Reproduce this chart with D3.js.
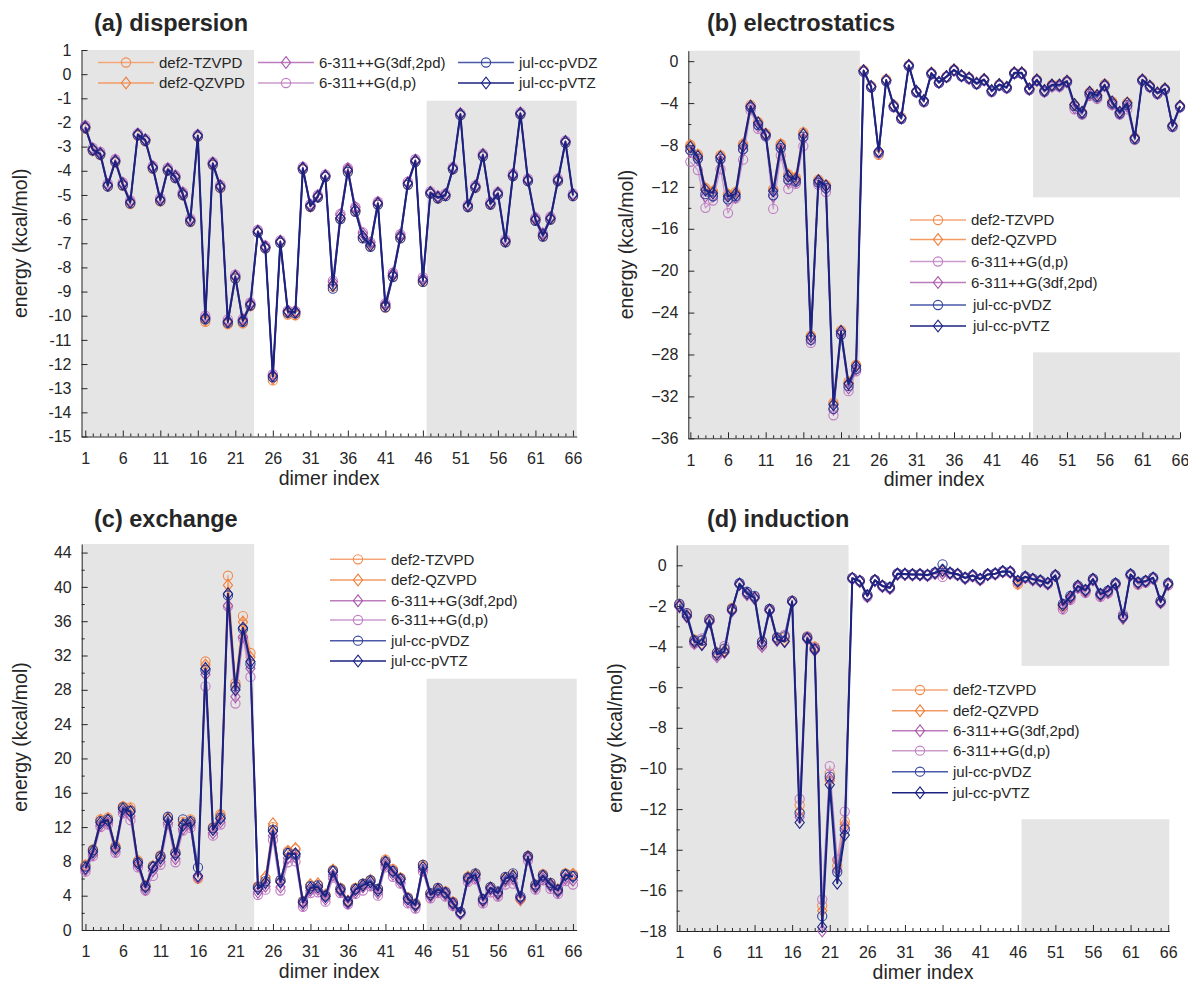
<!DOCTYPE html>
<html>
<head>
<meta charset="utf-8">
<script src="https://cdnjs.cloudflare.com/ajax/libs/d3/7.8.5/d3.min.js"></script>
<style>
  body { margin: 0; background: #fff; }
  text { font-family: "Liberation Sans", Arial, Helvetica, sans-serif; fill: #262626; }
</style>
</head>
<body>
<svg id="chart" width="1188" height="987"></svg>
<script>
// ---------- data: SAPT component energies (kcal/mol) for dimers 1..66 ----------
const dimerIndex = d3.range(1, 67);
const basisSets = ["def2-TZVPD", "def2-QZVPD", "6-311++G(3df,2pd)", "6-311++G(d,p)", "jul-cc-pVDZ", "jul-cc-pVTZ"];

// (a) dispersion
const dispTZVPD = [
  -2.25,-3.18,-3.35,-4.65,-3.65,-4.62,-5.38,-2.55,-2.78,-3.92,
  -5.27,-4.0,-4.3,-5.02,-6.12,-2.6,-10.25,-3.76,-4.72,-10.35,
  -8.45,-10.32,-9.6,-6.55,-7.22,-12.68,-6.98,-9.95,-9.98,-3.95,
  -5.5,-5.1,-4.26,-8.8,-6.0,-4.0,-5.68,-6.78,-7.12,-5.4,
  -9.66,-8.38,-6.78,-4.56,-3.62,-8.6,-4.95,-5.15,-5.04,-3.94,
  -1.7,-5.5,-4.7,-3.4,-5.4,-4.98,-6.95,-4.22,-1.67,-4.42,
  -6.06,-6.72,-6.02,-4.42,-2.84,-5.04];
const dispQZVPD = [
  -2.2,-3.14,-3.3,-4.6,-3.6,-4.56,-5.32,-2.5,-2.74,-3.87,
  -5.22,-3.95,-4.26,-4.97,-6.07,-2.55,-10.18,-3.72,-4.67,-10.3,
  -8.4,-10.26,-9.56,-6.52,-7.18,-12.6,-6.95,-9.88,-9.92,-3.9,
  -5.46,-5.07,-4.22,-8.72,-5.95,-3.96,-5.62,-6.72,-7.07,-5.35,
  -9.6,-8.33,-6.74,-4.52,-3.59,-8.55,-4.92,-5.1,-5.0,-3.9,
  -1.66,-5.46,-4.66,-3.35,-5.36,-4.94,-6.92,-4.18,-1.63,-4.39,
  -6.02,-6.68,-5.98,-4.39,-2.8,-5.01];
const disp3df2pd = [
  -2.15,-3.08,-3.25,-4.55,-3.55,-4.5,-5.25,-2.47,-2.7,-3.82,
  -5.15,-3.9,-4.2,-4.9,-6.0,-2.52,-10.05,-3.66,-4.6,-10.2,
  -8.33,-10.15,-9.48,-6.48,-7.12,-12.45,-6.9,-9.8,-9.82,-3.86,
  -5.4,-5.02,-4.18,-8.6,-5.82,-3.9,-5.52,-6.6,-6.98,-5.3,
  -9.5,-8.25,-6.65,-4.48,-3.55,-8.45,-4.88,-5.06,-4.97,-3.87,
  -1.63,-5.42,-4.62,-3.31,-5.32,-4.9,-6.86,-4.14,-1.6,-4.35,
  -5.95,-6.6,-5.92,-4.35,-2.77,-4.97];
const dispDP = [
  -2.12,-3.05,-3.22,-4.52,-3.52,-4.48,-5.22,-2.45,-2.68,-3.8,
  -5.12,-3.88,-4.18,-4.88,-5.97,-2.5,-10.0,-3.64,-4.58,-10.15,
  -8.3,-10.12,-9.45,-6.45,-7.1,-12.42,-6.88,-9.78,-9.8,-3.84,
  -5.38,-5.0,-4.16,-8.55,-5.78,-3.88,-5.5,-6.55,-6.95,-5.28,
  -9.48,-8.22,-6.62,-4.45,-3.52,-8.4,-4.85,-5.04,-4.95,-3.85,
  -1.62,-5.4,-4.6,-3.3,-5.3,-4.88,-6.84,-4.12,-1.58,-4.33,
  -5.93,-6.58,-5.9,-4.33,-2.75,-4.95];
const dispVDZ = [
  -2.22,-3.15,-3.33,-4.65,-3.62,-4.6,-5.35,-2.52,-2.76,-3.9,
  -5.25,-3.98,-4.3,-5.0,-6.1,-2.58,-10.15,-3.74,-4.7,-10.3,
  -8.45,-10.25,-9.58,-6.55,-7.2,-12.55,-6.98,-9.88,-9.9,-3.93,
  -5.48,-5.1,-4.25,-8.88,-6.0,-4.05,-5.7,-6.8,-7.15,-5.4,
  -9.65,-8.4,-6.8,-4.58,-3.63,-8.6,-4.95,-5.14,-5.05,-3.93,
  -1.7,-5.5,-4.7,-3.4,-5.4,-4.98,-6.96,-4.22,-1.66,-4.43,
  -6.07,-6.72,-6.02,-4.43,-2.84,-5.05];
const dispVTZ = [
  -2.2,-3.12,-3.3,-4.6,-3.6,-4.55,-5.3,-2.5,-2.73,-3.86,
  -5.2,-3.95,-4.25,-4.96,-6.05,-2.55,-10.1,-3.7,-4.65,-10.25,
  -8.38,-10.2,-9.53,-6.52,-7.17,-12.5,-6.94,-9.83,-9.85,-3.9,
  -5.45,-5.06,-4.22,-8.75,-5.95,-3.98,-5.63,-6.73,-7.08,-5.35,
  -9.56,-8.32,-6.73,-4.52,-3.59,-8.52,-4.91,-5.1,-5.0,-3.9,
  -1.66,-5.45,-4.66,-3.35,-5.35,-4.94,-6.91,-4.18,-1.63,-4.39,
  -6.01,-6.66,-5.97,-4.39,-2.8,-5.0];

// (b) electrostatics
const elstTZVPD = [
  -8.0,-8.9,-12.1,-12.4,-9.0,-12.7,-12.5,-7.9,-4.2,-5.8,
  -6.9,-12.2,-7.9,-10.8,-11.1,-6.8,-26.2,-11.3,-11.8,-32.6,
  -25.7,-30.6,-29.0,-0.85,-2.35,-8.95,-1.75,-4.2,-5.35,-0.38,
  -2.9,-3.9,-1.12,-2.0,-1.45,-0.82,-1.36,-1.58,-2.1,-1.74,
  -2.82,-2.22,-2.5,-1.1,-1.1,-2.6,-1.76,-2.8,-2.25,-2.25,
  -1.88,-4.2,-4.9,-2.95,-3.3,-2.2,-3.85,-4.9,-3.95,-7.3,
  -1.76,-2.36,-3.0,-2.62,-6.15,-4.3];
const elstQZVPD = [
  -8.05,-8.95,-12.15,-12.45,-9.05,-12.75,-12.55,-7.95,-4.25,-5.85,
  -6.95,-12.25,-7.95,-10.85,-11.15,-6.85,-26.2,-11.35,-11.85,-32.65,
  -25.75,-30.7,-29.0,-0.88,-2.38,-8.8,-1.78,-4.22,-5.38,-0.39,
  -2.88,-3.82,-1.13,-2.0,-1.46,-0.82,-1.37,-1.59,-2.1,-1.75,
  -2.81,-2.22,-2.49,-1.1,-1.1,-2.62,-1.77,-2.8,-2.26,-2.26,
  -1.89,-4.15,-4.87,-2.96,-3.28,-2.24,-3.88,-4.87,-3.98,-7.31,
  -1.77,-2.37,-3.01,-2.63,-6.14,-4.29];
const elst3df2pd = [
  -8.6,-9.4,-12.9,-12.9,-9.5,-13.3,-13.0,-8.5,-4.5,-6.2,
  -7.1,-12.9,-8.4,-11.5,-11.5,-7.4,-26.6,-11.6,-12.2,-33.2,
  -26.0,-31.2,-29.4,-0.95,-2.45,-8.7,-1.85,-4.3,-5.45,-0.45,
  -2.92,-3.8,-1.2,-2.05,-1.5,-0.88,-1.42,-1.65,-2.16,-1.8,
  -2.86,-2.28,-2.55,-1.16,-1.16,-2.7,-1.85,-2.9,-2.4,-2.4,
  -2.0,-4.45,-5.0,-3.2,-3.5,-2.35,-4.1,-5.0,-4.3,-7.4,
  -1.84,-2.45,-3.1,-2.7,-6.2,-4.35];
const elstDP = [
  -9.6,-10.4,-14.0,-13.3,-10.3,-14.5,-13.1,-9.4,-4.7,-6.45,
  -7.2,-14.1,-9.0,-12.2,-11.7,-8.1,-26.9,-11.8,-12.5,-33.8,
  -26.1,-31.5,-29.6,-1.0,-2.5,-8.8,-1.9,-4.4,-5.5,-0.5,
  -3.0,-3.9,-1.25,-2.1,-1.55,-0.92,-1.45,-1.7,-2.2,-1.85,
  -2.95,-2.35,-2.6,-1.2,-1.2,-2.75,-1.9,-2.95,-2.45,-2.45,
  -2.05,-4.6,-5.1,-3.3,-3.6,-2.4,-4.2,-5.1,-4.6,-7.5,
  -1.9,-2.5,-3.15,-2.75,-6.3,-4.4];
const elstVDZ = [
  -8.5,-9.3,-12.7,-12.9,-9.3,-13.2,-12.9,-8.4,-4.4,-6.1,
  -7.1,-12.8,-8.3,-11.3,-11.5,-7.2,-26.6,-11.6,-12.1,-33.2,
  -26.1,-31.0,-29.4,-1.0,-2.5,-8.7,-1.9,-4.35,-5.5,-0.45,
  -2.95,-3.85,-1.2,-2.08,-1.52,-0.88,-1.42,-1.65,-2.18,-1.8,
  -2.88,-2.3,-2.55,-1.16,-1.16,-2.7,-1.84,-2.88,-2.34,-2.33,
  -1.96,-4.3,-5.0,-3.1,-3.42,-2.34,-4.05,-5.0,-4.2,-7.45,
  -1.84,-2.45,-3.1,-2.7,-6.25,-4.36];
const elstVTZ = [
  -8.2,-9.1,-12.3,-12.6,-9.15,-12.9,-12.7,-8.1,-4.3,-5.9,
  -7.0,-12.4,-8.1,-11.0,-11.3,-7.0,-26.3,-11.4,-11.9,-32.8,
  -25.8,-30.8,-29.1,-0.9,-2.4,-8.6,-1.8,-4.25,-5.4,-0.4,
  -2.86,-3.75,-1.14,-2.0,-1.46,-0.83,-1.37,-1.59,-2.1,-1.75,
  -2.8,-2.22,-2.48,-1.11,-1.11,-2.64,-1.78,-2.8,-2.26,-2.26,
  -1.9,-4.13,-4.86,-2.96,-3.27,-2.26,-3.9,-4.86,-4.0,-7.31,
  -1.78,-2.38,-3.02,-2.64,-6.13,-4.29];

// (c) exchange
const exchTZVPD = [
  7.6,9.4,12.9,13.1,9.8,14.4,14.3,8.1,5.2,7.5,
  8.7,13.1,9.1,12.6,12.9,6.0,31.3,12.0,13.5,41.3,
  28.8,36.6,32.3,5.1,6.0,12.0,5.8,9.2,9.4,3.4,
  5.2,5.3,4.1,7.0,4.9,3.4,4.9,5.4,5.8,4.8,
  8.2,7.1,6.1,3.8,3.1,7.6,4.3,4.9,4.5,3.3,
  2.1,6.2,6.5,3.6,5.0,4.4,6.1,6.4,3.6,8.6,
  5.2,6.5,5.5,4.8,6.6,6.5];
const exchQZVPD = [
  7.5,9.3,12.8,13.0,9.7,14.3,14.1,8.0,5.1,7.4,
  8.6,13.0,8.9,12.4,12.7,6.1,30.9,11.9,13.4,40.2,
  28.6,35.9,31.8,5.0,6.2,12.4,5.7,9.2,9.5,3.3,
  5.3,5.4,4.1,7.0,4.8,3.4,4.8,5.3,5.8,4.7,
  8.1,7.0,6.0,3.7,3.0,7.5,4.2,4.8,4.4,3.2,
  2.0,6.2,6.5,3.5,4.9,4.3,6.0,6.3,3.5,8.6,
  5.2,6.4,5.4,4.7,6.5,6.5];
const exch3df2pd = [
  7.0,8.8,12.2,12.5,9.2,13.8,13.3,7.5,4.7,6.9,
  8.0,12.5,8.3,11.8,12.2,6.1,29.8,11.3,12.6,37.8,
  27.2,34.2,30.5,4.4,5.1,11.0,5.0,8.4,8.5,2.9,
  4.6,4.7,3.6,6.4,4.5,3.1,4.4,5.0,5.3,4.3,
  7.6,6.5,5.6,3.3,2.7,7.0,3.9,4.5,4.1,2.9,
  1.9,5.8,6.1,3.3,4.7,4.1,5.7,6.0,3.6,8.3,
  4.9,6.0,5.1,4.4,6.0,5.8];
const exchDP = [
  6.8,8.6,12.0,12.3,9.0,13.6,12.8,7.3,4.6,6.3,
  7.6,12.3,7.9,11.6,11.9,6.2,28.4,11.0,12.3,37.7,
  26.4,34.0,29.5,4.1,4.7,10.5,4.6,7.9,8.0,2.7,
  4.3,4.4,3.3,6.1,4.3,3.0,4.2,4.6,5.1,4.0,
  7.3,6.2,5.4,3.1,2.5,6.8,3.7,4.3,3.9,2.8,
  1.9,5.6,5.9,3.1,4.4,3.9,5.3,5.4,3.9,8.1,
  4.7,5.8,4.8,4.2,5.7,5.3];
const exchVDZ = [
  7.4,9.3,12.7,12.9,9.6,14.3,13.9,7.9,5.1,7.4,
  8.6,13.2,9.0,12.9,12.7,7.3,30.3,11.9,13.1,39.0,
  28.4,35.1,31.0,5.0,5.7,11.7,5.8,9.0,8.8,3.3,
  5.1,5.2,4.0,6.9,4.8,3.3,4.8,5.4,5.8,4.8,
  8.0,6.9,6.0,3.7,3.0,7.6,4.3,4.9,4.4,3.2,
  2.1,6.1,6.6,3.6,5.0,4.5,6.2,6.6,3.9,8.6,
  5.3,6.4,5.5,4.7,6.5,6.3];
const exchVTZ = [
  7.2,9.1,12.5,12.8,9.5,14.1,13.8,7.8,5.0,7.3,
  8.4,12.9,8.8,12.2,12.5,6.3,30.5,11.7,13.0,39.2,
  28.0,35.2,31.3,4.8,5.5,11.5,5.6,8.9,8.9,3.2,
  4.9,5.0,3.9,6.8,4.7,3.3,4.7,5.2,5.6,4.6,
  7.9,6.8,5.9,3.6,2.9,7.3,4.1,4.7,4.3,3.1,
  2.0,6.0,6.4,3.5,4.9,4.3,6.0,6.3,3.8,8.5,
  5.1,6.3,5.3,4.6,6.4,6.2];

// (d) induction
const indTZVPD = [
  -1.9,-2.35,-3.65,-3.7,-2.65,-4.3,-4.1,-2.1,-0.9,-1.4,
  -1.55,-3.8,-2.15,-3.55,-3.55,-1.75,-11.8,-3.5,-4.0,-16.75,
  -10.24,-14.8,-12.6,-0.62,-0.76,-1.48,-0.73,-1.0,-1.1,-0.42,
  -0.43,-0.45,-0.45,-0.48,-0.37,-0.3,-0.37,-0.44,-0.62,-0.52,
  -0.7,-0.46,-0.42,-0.32,-0.34,-0.94,-0.6,-0.7,-0.78,-0.9,
  -0.52,-2.0,-1.6,-1.05,-1.28,-0.7,-1.46,-1.32,-0.92,-2.5,
  -0.5,-0.92,-0.8,-0.66,-1.78,-0.98];
const indQZVPD = [
  -1.95,-2.45,-3.75,-3.85,-2.7,-4.35,-4.2,-2.15,-0.92,-1.4,
  -1.6,-3.85,-2.2,-3.6,-3.7,-1.78,-12.1,-3.55,-4.05,-17.0,
  -10.6,-14.5,-12.75,-0.64,-0.78,-1.5,-0.74,-1.02,-1.12,-0.43,
  -0.44,-0.46,-0.46,-0.49,-0.38,-0.27,-0.38,-0.45,-0.63,-0.52,
  -0.7,-0.46,-0.42,-0.31,-0.33,-0.9,-0.59,-0.7,-0.78,-0.9,
  -0.5,-1.98,-1.58,-1.04,-1.25,-0.69,-1.45,-1.3,-0.91,-2.52,
  -0.47,-0.9,-0.79,-0.64,-1.8,-0.95];
const ind3df2pd = [
  -2.05,-2.55,-3.85,-3.9,-2.8,-4.5,-4.3,-2.25,-0.95,-1.45,
  -1.65,-4.0,-2.25,-3.7,-3.75,-1.82,-12.4,-3.65,-4.2,-18.0,
  -10.5,-15.0,-12.9,-0.66,-0.8,-1.55,-0.76,-1.05,-1.14,-0.45,
  -0.46,-0.48,-0.48,-0.5,-0.4,-0.4,-0.4,-0.47,-0.65,-0.53,
  -0.71,-0.47,-0.43,-0.32,-0.34,-0.8,-0.6,-0.72,-0.8,-0.92,
  -0.52,-2.1,-1.65,-1.1,-1.3,-0.72,-1.5,-1.35,-0.95,-2.62,
  -0.48,-0.9,-0.8,-0.65,-1.85,-0.95];
const indDP = [
  -1.95,-2.4,-3.85,-3.6,-2.7,-4.45,-3.97,-2.2,-0.92,-1.4,
  -1.55,-3.95,-2.2,-3.6,-3.43,-1.75,-11.5,-3.5,-4.05,-16.45,
  -9.88,-14.49,-12.12,-0.65,-0.8,-1.55,-0.75,-1.05,-1.15,-0.45,
  -0.46,-0.48,-0.48,-0.52,-0.42,-0.57,-0.42,-0.48,-0.66,-0.55,
  -0.72,-0.48,-0.44,-0.34,-0.36,-0.82,-0.62,-0.72,-0.8,-0.93,
  -0.54,-2.17,-1.7,-1.12,-1.35,-0.74,-1.55,-1.38,-0.96,-2.4,
  -0.5,-0.95,-0.85,-0.68,-1.85,-0.98];
const indVDZ = [
  -1.9,-2.35,-3.7,-3.7,-2.65,-4.3,-4.1,-2.15,-0.88,-1.3,
  -1.5,-3.75,-2.15,-3.55,-3.5,-1.75,-12.2,-3.55,-4.1,-17.27,
  -10.4,-15.1,-13.0,-0.62,-0.75,-1.45,-0.72,-1.0,-1.08,-0.4,
  -0.42,-0.44,-0.44,-0.47,-0.35,0.05,-0.36,-0.43,-0.6,-0.49,
  -0.66,-0.44,-0.4,-0.29,-0.31,-0.75,-0.55,-0.66,-0.74,-0.86,
  -0.48,-1.9,-1.5,-1.0,-1.2,-0.66,-1.4,-1.25,-0.88,-2.5,
  -0.44,-0.83,-0.76,-0.6,-1.75,-0.88];
const indVTZ = [
  -2.0,-2.5,-3.75,-3.9,-2.75,-4.38,-4.25,-2.2,-0.92,-1.38,
  -1.6,-3.85,-2.2,-3.65,-3.75,-1.8,-12.66,-3.6,-4.15,-17.8,
  -10.8,-15.65,-13.28,-0.64,-0.78,-1.5,-0.74,-1.02,-1.1,-0.42,
  -0.43,-0.45,-0.45,-0.48,-0.37,-0.25,-0.37,-0.44,-0.62,-0.5,
  -0.68,-0.45,-0.41,-0.3,-0.32,-0.78,-0.57,-0.68,-0.76,-0.88,
  -0.5,-1.95,-1.55,-1.02,-1.23,-0.68,-1.42,-1.27,-0.9,-2.55,
  -0.45,-0.85,-0.78,-0.62,-1.8,-0.9];

// ---------- appearance ----------
const basisStyle = {
  "def2-TZVPD":        { color: "#f28a4c", line: "#f5a678", shape: "circle",  width: 1.3 },
  "def2-QZVPD":        { color: "#ef7d39", line: "#f39b66", shape: "diamond", width: 1.3 },
  "6-311++G(3df,2pd)": { color: "#a957ab", line: "#bb7dbd", shape: "diamond", width: 1.3 },
  "6-311++G(d,p)":     { color: "#c07cc3", line: "#cc9bce", shape: "circle",  width: 1.3 },
  "jul-cc-pVDZ":       { color: "#34459c", line: "#4a5aa8", shape: "circle",  width: 1.6 },
  "jul-cc-pVTZ":       { color: "#1c2280", line: "#1c2280", shape: "diamond", width: 2.0 }
};
// stacking order of the series (last drawn on top)
const drawOrder = ["def2-TZVPD", "def2-QZVPD", "6-311++G(d,p)", "6-311++G(3df,2pd)", "jul-cc-pVDZ", "jul-cc-pVTZ"];

const panels = [
  {
    title: "(a) dispersion", titlePos: [94, 31],
    box: { l: 81.5, r: 576.7, t: 50, b: 436.5 },
    xDom: [0.5, 66.5], yDom: [-15, 1],
    yMajor: d3.range(-15, 2, 1), yMinor: [], minus: "-",
    shades: [[0.5, 23.5, -15, 1], [46.5, 66.5, -15, -1.1]],
    data: { "def2-TZVPD": dispTZVPD, "def2-QZVPD": dispQZVPD, "6-311++G(3df,2pd)": disp3df2pd,
            "6-311++G(d,p)": dispDP, "jul-cc-pVDZ": dispVDZ, "jul-cc-pVTZ": dispVTZ },
    legend: [
      { name: "def2-TZVPD", x: 98, y: 62.5 }, { name: "def2-QZVPD", x: 98, y: 83 },
      { name: "6-311++G(3df,2pd)", x: 258, y: 62.5 }, { name: "6-311++G(d,p)", x: 258, y: 83 },
      { name: "jul-cc-pVDZ", x: 458, y: 62.5 }, { name: "jul-cc-pVTZ", x: 458, y: 83 }
    ]
  },
  {
    title: "(b) electrostatics", titlePos: [707, 31],
    box: { l: 688.3, r: 1180, t: 50.7, b: 438.3 },
    xDom: [0.73, 66], yDom: [-36, 1],
    yMajor: d3.range(-36, 1, 4), yMinor: d3.range(-34, 1, 4), minus: "\u2212",
    shades: [[0.73, 23.5, -36, 1], [46.5, 66, -13, 1], [46.5, 66, -36, -27.8]],
    data: { "def2-TZVPD": elstTZVPD, "def2-QZVPD": elstQZVPD, "6-311++G(3df,2pd)": elst3df2pd,
            "6-311++G(d,p)": elstDP, "jul-cc-pVDZ": elstVDZ, "jul-cc-pVTZ": elstVTZ },
    legend: [
      { name: "def2-TZVPD", x: 910, y: 220 }, { name: "def2-QZVPD", x: 910, y: 239.5 },
      { name: "6-311++G(d,p)", x: 910, y: 261.5 }, { name: "6-311++G(3df,2pd)", x: 910, y: 282.5 },
      { name: "jul-cc-pVDZ", x: 910, y: 305, dx: 2 }, { name: "jul-cc-pVTZ", x: 910, y: 326, dx: 2 }
    ]
  },
  {
    title: "(c) exchange", titlePos: [94, 527],
    box: { l: 81.7, r: 576.7, t: 544, b: 930 },
    xDom: [0.5, 66.5], yDom: [0, 45],
    yMajor: d3.range(0, 45, 4), yMinor: d3.range(2, 45, 4), minus: "-",
    shades: [[0.5, 23.5, 0, 45], [46.5, 66.5, 0, 29.3]],
    data: { "def2-TZVPD": exchTZVPD, "def2-QZVPD": exchQZVPD, "6-311++G(3df,2pd)": exch3df2pd,
            "6-311++G(d,p)": exchDP, "jul-cc-pVDZ": exchVDZ, "jul-cc-pVTZ": exchVTZ },
    legend: [
      { name: "def2-TZVPD", x: 330, y: 559.3 }, { name: "def2-QZVPD", x: 330, y: 580 },
      { name: "6-311++G(3df,2pd)", x: 330, y: 600.7 }, { name: "6-311++G(d,p)", x: 330, y: 620 },
      { name: "jul-cc-pVDZ", x: 330, y: 640.7 }, { name: "jul-cc-pVTZ", x: 330, y: 661 }
    ]
  },
  {
    title: "(d) induction", titlePos: [707, 527],
    box: { l: 676.7, r: 1169.3, t: 545, b: 931 },
    xDom: [0.65, 66.15], yDom: [-18, 1],
    yMajor: d3.range(-18, 1, 2), yMinor: d3.range(-17, 1, 2), minus: "\u2212",
    shades: [[0.65, 23.5, -18, 1], [46.5, 66.15, -4.95, 1], [46.5, 66.15, -18, -12.5]],
    data: { "def2-TZVPD": indTZVPD, "def2-QZVPD": indQZVPD, "6-311++G(3df,2pd)": ind3df2pd,
            "6-311++G(d,p)": indDP, "jul-cc-pVDZ": indVDZ, "jul-cc-pVTZ": indVTZ },
    legend: [
      { name: "def2-TZVPD", x: 892, y: 690 }, { name: "def2-QZVPD", x: 892, y: 710.7 },
      { name: "6-311++G(3df,2pd)", x: 892, y: 730.7 }, { name: "6-311++G(d,p)", x: 892, y: 750.7 },
      { name: "jul-cc-pVDZ", x: 892, y: 771.7 }, { name: "jul-cc-pVTZ", x: 892, y: 792.7 }
    ]
  }
];

const xMajor = d3.range(1, 67, 5);
const xMinor = dimerIndex.filter(i => (i - 1) % 5 !== 0);
const axisColor = "#262626";

const svg = d3.select("#chart");

function drawMarker(sel, shape, color) {
  if (shape === "circle") {
    sel.append("circle").attr("r", 4.6)
      .attr("fill", "none").attr("stroke", color).attr("stroke-width", 1.1);
  } else {
    sel.append("path").attr("d", "M0,-5.8L4.6,0L0,5.8L-4.6,0Z")
      .attr("fill", "none").attr("stroke", color).attr("stroke-width", 1.1);
  }
}

panels.forEach(p => {
  const g = svg.append("g");
  const x = d3.scaleLinear().domain(p.xDom).range([p.box.l, p.box.r]);
  const y = d3.scaleLinear().domain(p.yDom).range([p.box.b, p.box.t]);

  // shaded index ranges
  g.selectAll("rect.shade").data(p.shades).join("rect")
    .attr("class", "shade")
    .attr("x", d => x(d[0])).attr("width", d => x(d[1]) - x(d[0]))
    .attr("y", d => y(d[3])).attr("height", d => y(d[2]) - y(d[3]))
    .attr("fill", "#e5e5e5");

  // axes (inward ticks)
  const fmt = v => (v < 0 ? p.minus + Math.abs(v) : String(v));
  const yAxis = g.append("g").attr("transform", `translate(${p.box.l},0)`)
    .call(d3.axisLeft(y).tickValues(p.yMajor).tickFormat(fmt)
      .tickSizeInner(-6).tickSizeOuter(0).tickPadding(10));
  g.append("g").attr("transform", `translate(${p.box.l},0)`)
    .call(d3.axisLeft(y).tickValues(p.yMinor).tickFormat("").tickSizeInner(-3).tickSizeOuter(0))
    .call(a => a.select(".domain").remove());
  const xAxis = g.append("g").attr("transform", `translate(0,${p.box.b})`)
    .call(d3.axisBottom(x).tickValues(xMajor).tickFormat(d3.format("d"))
      .tickSizeInner(-6).tickSizeOuter(0).tickPadding(16));
  g.append("g").attr("transform", `translate(0,${p.box.b})`)
    .call(d3.axisBottom(x).tickValues(xMinor).tickFormat("").tickSizeInner(-3).tickSizeOuter(0))
    .call(a => a.select(".domain").remove());
  g.selectAll(".domain, .tick line").attr("stroke", axisColor).attr("stroke-width", 1);
  [yAxis, xAxis].forEach(a => a.selectAll(".tick text")
    .attr("font-size", 16).attr("fill", axisColor)
    .style("font-family", '"Liberation Sans", Arial, sans-serif'));

  // series
  drawOrder.forEach(name => {
    const st = basisStyle[name];
    const vals = p.data[name];
    const pts = dimerIndex.map((d, i) => [d, vals[i]]);
    g.append("path").datum(pts)
      .attr("fill", "none").attr("stroke", st.line).attr("stroke-width", st.width)
      .attr("stroke-linejoin", "round")
      .attr("d", d3.line().x(d => x(d[0])).y(d => y(d[1])));
    const m = g.append("g").selectAll("g").data(pts).join("g")
      .attr("transform", d => `translate(${x(d[0])},${y(d[1])})`);
    drawMarker(m, st.shape, st.color);
  });

  // legend
  p.legend.forEach(item => {
    const st = basisStyle[item.name];
    const lg = g.append("g").attr("transform", `translate(${item.x},${item.y})`);
    lg.append("line").attr("x1", 0).attr("x2", 56).attr("y1", 0).attr("y2", 0)
      .attr("stroke", st.line).attr("stroke-width", 1.5);
    drawMarker(lg.append("g").attr("transform", "translate(28,0)"), st.shape, st.color);
    lg.append("text").attr("x", 61 + (item.dx || 0)).attr("y", 0).attr("dy", "0.35em")
      .attr("font-size", 15).text(item.name);
  });

  // titles and axis labels
  g.append("text").attr("x", p.titlePos[0]).attr("y", p.titlePos[1])
    .attr("font-size", 23.5).attr("font-weight", "bold").attr("fill", "#000").text(p.title);
  g.append("text").attr("x", (p.box.l + p.box.r) / 2).attr("y", p.box.b + 48)
    .attr("text-anchor", "middle").attr("font-size", 19.5).text("dimer index");
  g.append("text")
    .attr("transform", `translate(${p.box.l - 55},${(p.box.t + p.box.b) / 2}) rotate(-90)`)
    .attr("text-anchor", "middle").attr("font-size", 19.5).text("energy (kcal/mol)");
});
</script>
</body>
</html>
